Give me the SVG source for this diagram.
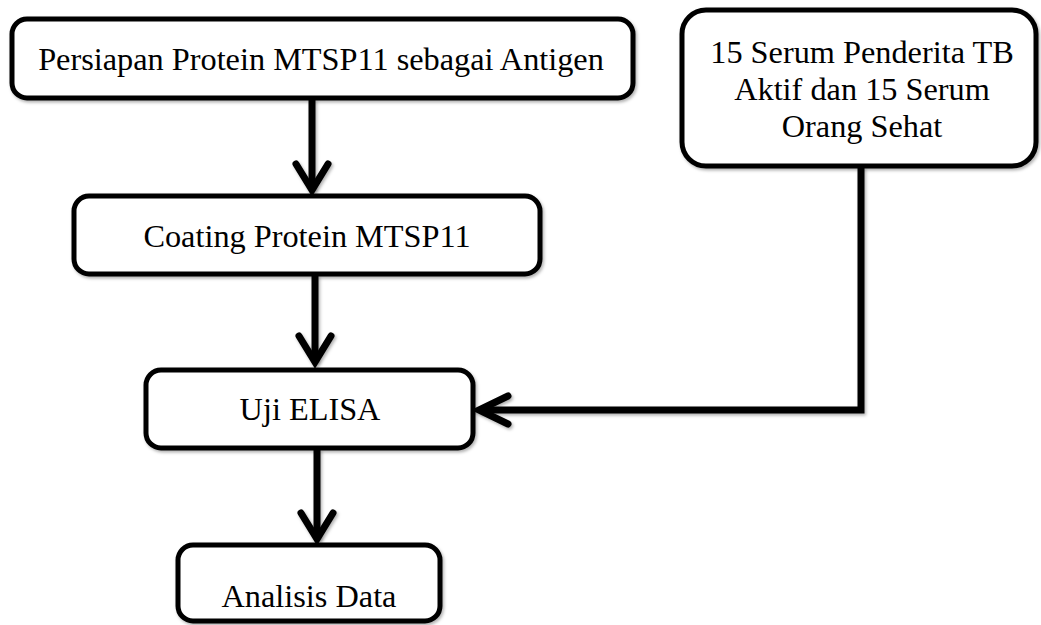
<svg xmlns="http://www.w3.org/2000/svg" width="1041" height="625" viewBox="0 0 1041 625">
<style>
.box{fill:#fff;stroke:#000;stroke-width:5;filter:url(#sh)}
.lbl{font-family:"Liberation Serif","Times New Roman",serif;font-size:32.3px;fill:#000;text-anchor:middle}
.con{fill:none;stroke:#000;stroke-width:7;filter:url(#sh)}
.head{fill:none;stroke:#000;stroke-width:7;stroke-linecap:round;stroke-linejoin:miter;filter:url(#sh)}
</style>
<defs>
<filter id="sh" filterUnits="userSpaceOnUse" x="0" y="0" width="1041" height="625">
<feDropShadow dx="1.5" dy="2" stdDeviation="1.5" flood-color="#000" flood-opacity="0.3"/>
</filter>
</defs>
<g id="connectors">
<line class="con" x1="312" y1="99" x2="312" y2="190"/>
<polyline class="head" points="296,164 312,190 328,164"/>
<line class="con" x1="315" y1="275" x2="315" y2="362"/>
<polyline class="head" points="299,336 315,362 331,336"/>
<line class="con" x1="317" y1="449" x2="317" y2="539"/>
<polyline class="head" points="301,513 317,539 333,513"/>
<polyline class="con" points="861,167 861,410 479,410"/>
<polyline class="head" points="508,396 479,410 508,424"/>
</g>
<g id="node-persiapan">
<rect class="box" x="12" y="19" width="621" height="79" rx="15"/>
<text class="lbl" x="321" y="70">Persiapan Protein MTSP11 sebagai Antigen</text>
</g>
<g id="node-coating">
<rect class="box" x="74" y="196" width="466" height="78" rx="15"/>
<text class="lbl" x="307" y="247">Coating Protein MTSP11</text>
</g>
<g id="node-elisa">
<rect class="box" x="146" y="370" width="327" height="78" rx="15"/>
<text class="lbl" x="310" y="420">Uji ELISA</text>
</g>
<g id="node-analisis">
<rect class="box" x="178" y="545" width="262" height="76" rx="15"/>
<text class="lbl" x="309" y="607">Analisis Data</text>
</g>
<g id="node-serum">
<rect class="box" x="682" y="10" width="354" height="156" rx="24"/>
<text class="lbl" x="862" y="63">15 Serum Penderita TB</text>
<text class="lbl" x="862" y="100">Aktif dan 15 Serum</text>
<text class="lbl" x="862" y="137">Orang Sehat</text>
</g>
</svg>
